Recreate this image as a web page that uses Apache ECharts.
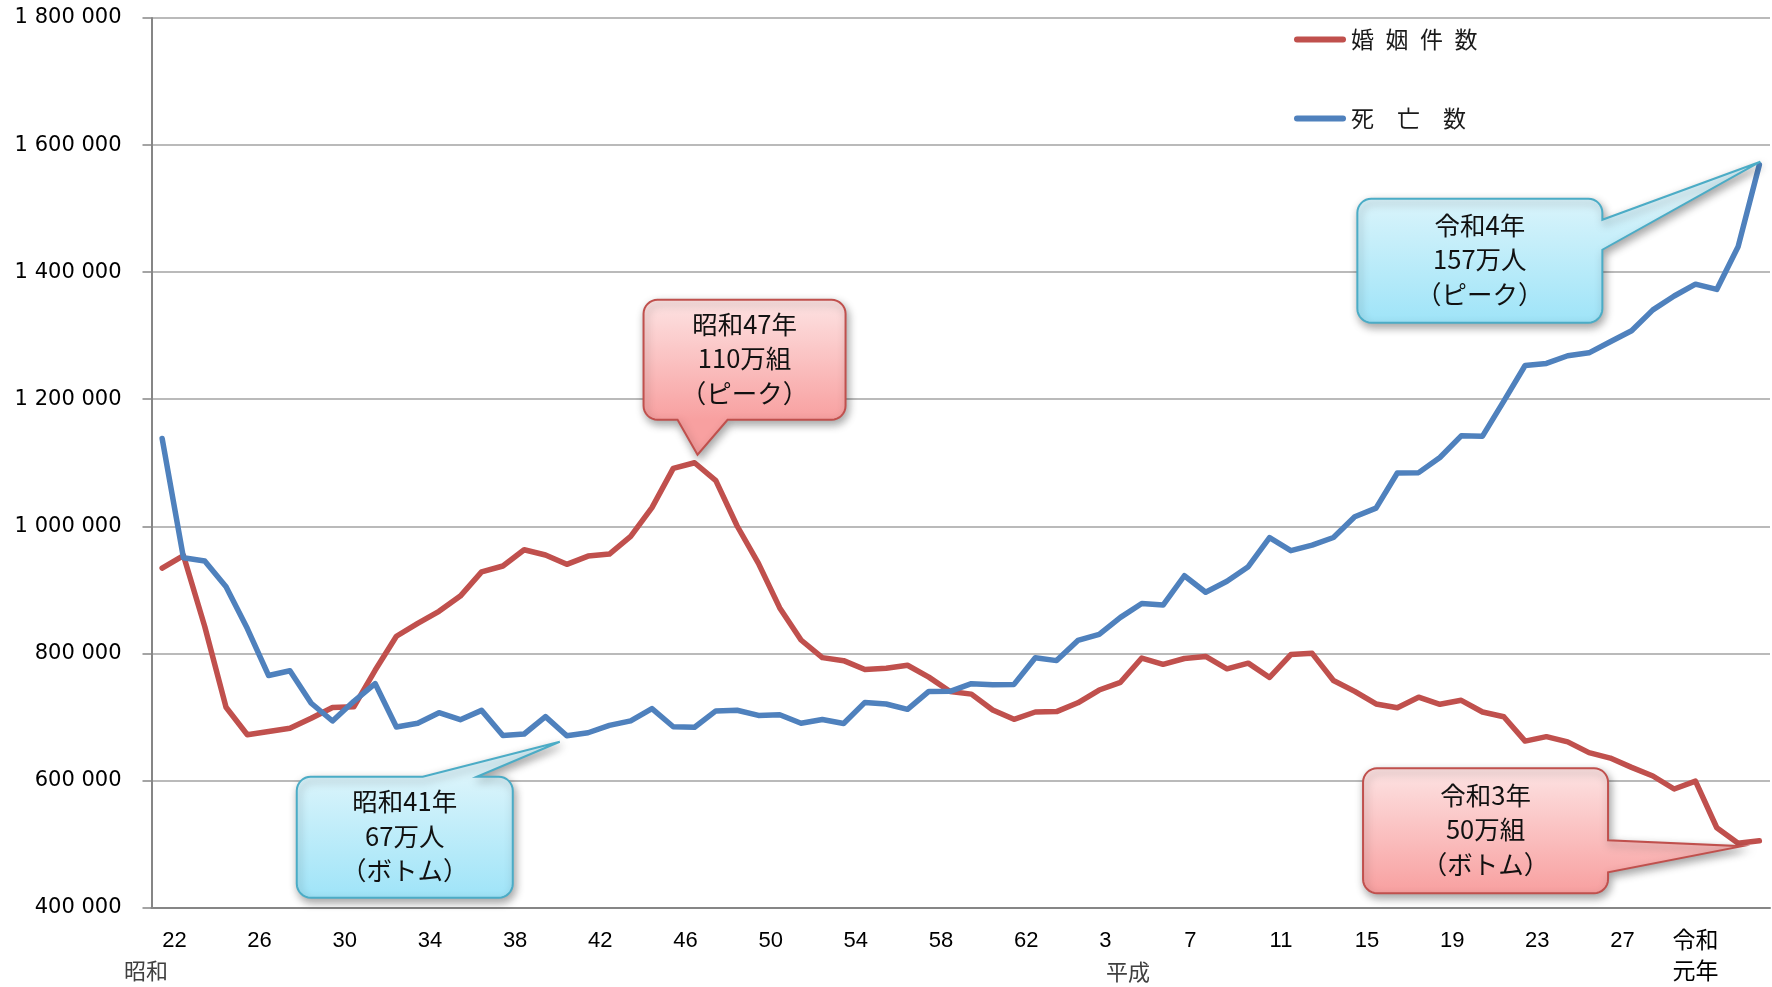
<!DOCTYPE html>
<html>
<head>
<meta charset="utf-8">
<script src="https://cdn.jsdelivr.net/npm/echarts@6/dist/echarts.min.js"></script>
<style>
html, body { margin: 0; padding: 0; background: #fff; }
#chart { width: 1772px; height: 987px; }
</style>
</head>
<body>
<div id="chart"></div>
<script>
// 年 (昭和22年〜令和4年)
const categories = [
  '昭和22','昭和23','昭和24','昭和25','昭和26','昭和27','昭和28','昭和29','昭和30','昭和31',
  '昭和32','昭和33','昭和34','昭和35','昭和36','昭和37','昭和38','昭和39','昭和40','昭和41',
  '昭和42','昭和43','昭和44','昭和45','昭和46','昭和47','昭和48','昭和49','昭和50','昭和51',
  '昭和52','昭和53','昭和54','昭和55','昭和56','昭和57','昭和58','昭和59','昭和60','昭和61',
  '昭和62','昭和63','平成元','平成2','平成3','平成4','平成5','平成6','平成7','平成8',
  '平成9','平成10','平成11','平成12','平成13','平成14','平成15','平成16','平成17','平成18',
  '平成19','平成20','平成21','平成22','平成23','平成24','平成25','平成26','平成27','平成28',
  '平成29','平成30','令和元','令和2','令和3','令和4'
];

// 婚姻件数
const marriages = [
  934170, 953999, 842170, 715081, 671905, 676995, 682077, 697809, 714861, 715934,
  773362, 826902, 847135, 866115, 890158, 928341, 937516, 963130, 954852, 940120,
  953096, 956312, 984142, 1029405, 1091229, 1099984, 1071923, 1000455, 941628, 871543,
  821029, 793257, 788505, 774702, 776531, 781252, 762552, 739991, 735850, 710962,
  696173, 707716, 708316, 722138, 742264, 754441, 792658, 782738, 791888, 795080,
  775651, 784595, 762028, 798138, 799999, 757331, 740191, 720417, 714265, 730971,
  719822, 726106, 707734, 700214, 661895, 668869, 660613, 643749, 635225, 620531,
  606952, 586481, 599007, 525507, 501138, 504930
];

// 死亡数
const deaths = [
  1138238, 950610, 945444, 904876, 838998, 765068, 772547, 721491, 693523, 724460,
  752445, 684189, 689959, 706599, 695644, 710265, 670770, 673067, 700438, 670342,
  675006, 686555, 693787, 712962, 684521, 683751, 709416, 710510, 702275, 703270,
  690074, 695821, 689664, 722801, 720262, 711883, 740038, 740247, 752283, 750620,
  751172, 793014, 788594, 820305, 829797, 856643, 878532, 875933, 922139, 896211,
  913402, 936484, 982031, 961653, 970331, 982379, 1014951, 1028602, 1083796, 1084451,
  1108334, 1142407, 1141865, 1197014, 1253066, 1256359, 1268436, 1273025, 1290444, 1307748,
  1340567, 1362470, 1381093, 1372755, 1439856, 1569050
];

const seriesNames = ['婚\u2002姻\u2002件\u2002数', '死\u3000亡\u3000数'];
const yMin = 400000, yMax = 1800000, yStep = 200000;

// 吹き出し (系列, 年, 文)
const notes = [
  { series: 0, year: '昭和47', text: '昭和47年\n110万組\n（ピーク）' },
  { series: 1, year: '昭和41', text: '昭和41年\n67万人\n（ボトム）' },
  { series: 1, year: '令和4', text: '令和4年\n157万人\n（ピーク）' },
  { series: 0, year: '令和3', text: '令和3年\n50万組\n（ボトム）' }
];

const RED = '#c0504d', BLUE = '#4f81bd';
const chart = echarts.init(document.getElementById('chart'));

const fmtThousands = v => String(v).replace(/\B(?=(\d{3})+(?!\d))/g, ' ');

chart.setOption({
  animation: false,
  backgroundColor: '#fff',
  grid: { left: 151.5, right: 2, top: 18, bottom: 79.5, outerBoundsMode: 'none' },
  legend: {
    orient: 'vertical',
    left: 1289,
    top: 23,
    itemWidth: 52,
    itemHeight: 6,
    itemGap: 56,
    icon: 'path://M3,0L49,0A3,3,0,0,1,49,6L3,6A3,3,0,0,1,3,0Z',
    textStyle: { fontFamily: 'Noto Sans CJK JP', fontSize: 23, color: '#1a1a1a' },
    data: seriesNames
  },
  xAxis: [
    {
      type: 'category',
      data: categories,
      boundaryGap: true,
      axisLine: { lineStyle: { color: '#868686', width: 2 } },
      axisTick: { interval: 0, length: 8, lineStyle: { color: '#868686', width: 1.5 } },
      axisLabel: {
        interval: 3,
        align: 'left',
        margin: 22,
        fontFamily: 'Liberation Sans',
        fontSize: 22,
        color: '#000',
        formatter: v => v.startsWith('令和') ? '' : v.slice(2)
      },
      splitLine: { show: false }
    },
    {
      type: 'category',
      data: categories,
      position: 'bottom',
      axisLine: { show: false },
      axisTick: { show: false },
      splitLine: { show: false },
      axisLabel: {
        interval: 3,
        margin: 16,
        fontFamily: 'Noto Sans CJK JP',
        fontSize: 23,
        lineHeight: 31,
        color: '#000',
        formatter: v => v === '令和元' ? '令和\n元年' : ''
      }
    }
  ],
  yAxis: {
    type: 'value',
    min: yMin,
    max: yMax,
    interval: yStep,
    axisLine: { show: true, lineStyle: { color: '#868686', width: 2 } },
    axisTick: { show: true, length: 9, lineStyle: { color: '#868686', width: 1.5 } },
    axisLabel: {
      margin: 30,
      fontFamily: 'DejaVu Sans',
      fontSize: 21,
      color: '#000',
      formatter: fmtThousands
    },
    splitLine: { lineStyle: { color: '#a3a3a3', width: 1.5 } }
  },
  series: [
    {
      name: seriesNames[0],
      type: 'line',
      data: marriages,
      symbol: 'none',
      z: 3,
      itemStyle: { color: RED },
      lineStyle: { color: RED, width: 5.5, cap: 'round', join: 'round' }
    },
    {
      name: seriesNames[1],
      type: 'line',
      data: deaths,
      symbol: 'none',
      z: 4,
      itemStyle: { color: BLUE },
      lineStyle: { color: BLUE, width: 5.5, cap: 'round', join: 'round' }
    }
  ]
});

// 吹き出しの形 (tip: 点からの先端位置, box: 先端からの箱, base: 辺上の根元)
const shapes = [
  { tip: [3, -8], box: [-54, -155, 202, 120], side: 'bottom', base: [34, 84] },
  { tip: [-7, 6], box: [-263, 35, 216, 121], side: 'top', base: [126, 180] },
  { tip: [1, -3], box: [-403, 37, 245, 124], side: 'right', base: [21, 51] },
  { tip: [4, 3], box: [-379, -78, 245, 125], side: 'right', base: [72, 104] }
];

const palettes = [
  { stroke: '#c0504d', top: '#fde3e3', bottom: '#f8a0a0' },
  { stroke: '#4bacc6', top: '#daf4fb', bottom: '#9fe4f8' }
];

function arc(pts, cx, cy, r, a0, a1) {
  for (let i = 0; i <= 8; i++) {
    const t = a0 + (a1 - a0) * i / 8;
    pts.push([cx + r * Math.cos(t), cy + r * Math.sin(t)]);
  }
}

function callout(note, shape) {
  const idx = categories.indexOf(note.year);
  const val = (note.series === 0 ? marriages : deaths)[idx];
  const p = chart.convertToPixel({ seriesIndex: note.series }, [idx, val]);
  const tx = p[0] + shape.tip[0], ty = p[1] + shape.tip[1];
  const x = tx + shape.box[0], y = ty + shape.box[1];
  const w = shape.box[2], h = shape.box[3], r = 14;
  const a = shape.base[0], b = shape.base[1];
  const PI = Math.PI;
  const pts = [];
  arc(pts, x + r, y + r, r, PI, 1.5 * PI);
  if (shape.side === 'top') pts.push([x + a, y], [tx, ty], [x + b, y]);
  arc(pts, x + w - r, y + r, r, 1.5 * PI, 2 * PI);
  if (shape.side === 'right') pts.push([x + w, y + a], [tx, ty], [x + w, y + b]);
  arc(pts, x + w - r, y + h - r, r, 0, 0.5 * PI);
  if (shape.side === 'bottom') pts.push([x + b, y + h], [tx, ty], [x + a, y + h]);
  arc(pts, x + r, y + h - r, r, 0.5 * PI, PI);
  const pal = palettes[note.series === 0 ? 0 : 1];
  return [
    {
      type: 'polygon',
      z: 100,
      shape: { points: pts },
      style: {
        fill: new echarts.graphic.LinearGradient(0, y, 0, y + h, [
          { offset: 0, color: pal.top }, { offset: 1, color: pal.bottom }
        ], true),
        stroke: pal.stroke,
        lineWidth: 2,
        lineJoin: 'miter',
        shadowBlur: 8,
        shadowOffsetX: 2,
        shadowOffsetY: 4,
        shadowColor: 'rgba(0,0,0,0.35)'
      }
    },
    {
      type: 'text',
      z: 101,
      x: x + w / 2,
      y: y + h / 2 - 1,
      style: {
        text: note.text,
        fontFamily: 'Noto Sans CJK JP',
        fontSize: 25.5,
        lineHeight: 34.5,
        fill: '#111',
        align: 'center',
        verticalAlign: 'middle'
      }
    }
  ];
}

const graphics = [];
notes.forEach((n, i) => graphics.push(...callout(n, shapes[i])));

// 元号
graphics.push(
  { type: 'text', x: 146, y: 971, style: { text: '昭和', fontFamily: 'Noto Sans CJK JP', fontSize: 22, fill: '#404040', align: 'center', verticalAlign: 'middle' } },
  { type: 'text', x: 1128, y: 972, style: { text: '平成', fontFamily: 'Noto Sans CJK JP', fontSize: 22, fill: '#404040', align: 'center', verticalAlign: 'middle' } }
);

chart.setOption({ graphic: graphics });
</script>
</body>
</html>
